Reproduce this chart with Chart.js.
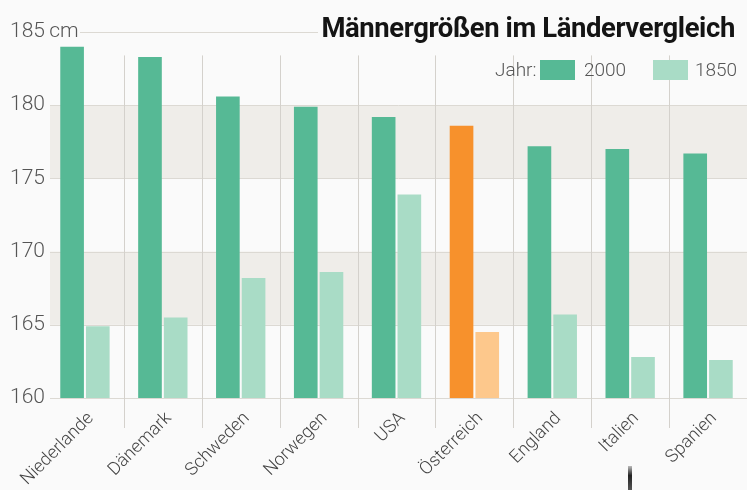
<!DOCTYPE html>
<html lang="de">
<head>
<meta charset="utf-8">
<title>Männergrößen im Ländervergleich</title>
<script src="https://cdn.jsdelivr.net/npm/chart.js@4.4.1/dist/chart.umd.min.js"></script>
<style>
  html, body { margin: 0; padding: 0; background: #fafafa; }
  #wrap { position: relative; width: 747px; height: 490px; overflow: hidden; }
  #chart { position: absolute; left: 0; top: 0; }
  .title {
    position: absolute; right: 12px; top: 11px; white-space: nowrap;
    font-family: Roboto, 'Open Sans', sans-serif;
    font-weight: bold; font-size: 28px; color: #141414; letter-spacing: -0.4px;
    transform: scaleX(0.98); transform-origin: right center;
  }
  .legend {
    position: absolute; top: 58px; font-family: Roboto, 'Open Sans', sans-serif;
    font-size: 19px; color: #555; line-height: 24px; font-weight: 300;
  }
  .swatch { position: absolute; top: 60px; width: 35px; height: 20px; }
  .mark {
    position: absolute; left: 628px; top: 466px; width: 4px; height: 24px;
    background: linear-gradient(#bbb, #222 40%, #555);
  }
</style>
</head>
<body>
<div id="wrap">
  <canvas id="chart" width="747" height="490"></canvas>
  <div class="title">Männergrößen im Ländervergleich</div>
  <div class="legend" style="left:495px">Jahr:</div>
  <div class="swatch" style="left:540px;background:#56b995"></div>
  <div class="legend" style="left:584px">2000</div>
  <div class="swatch" style="left:653px;background:#a9dcc6"></div>
  <div class="legend" style="left:695px">1850</div>
  <div class="mark"></div>
</div>
<script>
(function () {
  'use strict';

  const countries = ['Niederlande', 'Dänemark', 'Schweden', 'Norwegen', 'USA', 'Österreich', 'England', 'Italien', 'Spanien'];
  const heights2000 = [184.0, 183.3, 180.6, 179.9, 179.2, 178.6, 177.2, 177.0, 176.7];
  const heights1850 = [164.9, 165.5, 168.2, 168.6, 173.9, 164.5, 165.7, 162.8, 162.6];
  const yTicks = [160, 165, 170, 175, 180, 185];
  const shadedBands = [[165, 170], [175, 180]];
  const highlight = 'Österreich';

  const green = '#56b995';
  const greenLight = '#a9dcc6';
  const orange = '#f7912c';
  const orangeLight = '#fdc88c';
  const labelFont = "Roboto, 'Open Sans', sans-serif";

  // bands, grid lines and category separators behind the bars
  const backdrop = {
    id: 'backdrop',
    beforeDatasetsDraw(chart) {
      const { ctx, chartArea: area, scales: { x, y } } = chart;
      ctx.save();
      ctx.fillStyle = '#efede9';
      shadedBands.forEach(([lo, hi]) => {
        const top = y.getPixelForValue(hi);
        ctx.fillRect(area.left + 4, top, area.right - area.left, y.getPixelForValue(lo) - top);
      });
      ctx.strokeStyle = '#dcd9d3';
      ctx.lineWidth = 1;
      yTicks.forEach((v) => {
        const py = Math.round(y.getPixelForValue(v)) + 0.5;
        ctx.beginPath();
        if (v === 185) {
          ctx.moveTo(80, py);
          ctx.lineTo(318, py);
        } else {
          ctx.moveTo(area.left + 4, py);
          ctx.lineTo(area.right, py);
        }
        ctx.stroke();
      });
      ctx.strokeStyle = '#d4d1cc';
      const step = x.getPixelForTick(1) - x.getPixelForTick(0);
      for (let i = 0; i < countries.length - 1; i++) {
        const px = Math.round(x.getPixelForTick(i) + step / 2) + 0.5;
        ctx.beginPath();
        ctx.moveTo(px, y.getPixelForValue(183.4));
        ctx.lineTo(px, area.bottom + 30);
        ctx.stroke();
      }
      ctx.restore();
    },
  };

  new Chart(document.getElementById('chart'), {
    type: 'bar',
    data: {
      labels: countries,
      datasets: [
        {
          label: '2000',
          data: heights2000,
          backgroundColor: countries.map((c) => (c === highlight ? orange : green)),
        },
        {
          label: '1850',
          data: heights1850,
          backgroundColor: countries.map((c) => (c === highlight ? orangeLight : greenLight)),
        },
      ],
    },
    options: {
      responsive: false,
      animation: false,
      layout: { padding: { left: 10, top: 32, right: 0, bottom: 0 } },
      categoryPercentage: 0.66,
      barPercentage: 0.92,
      plugins: {
        legend: { display: false },
        tooltip: { enabled: false },
      },
      scales: {
        x: {
          grid: { display: false },
          border: { display: false },
          ticks: {
            minRotation: 45,
            maxRotation: 45,
            padding: 2,
            labelOffset: 6,
            color: '#444',
            font: { family: labelFont, size: 18, weight: 300 },
          },
          afterFit(scale) { scale.height = 92; },
        },
        y: {
          min: 160,
          max: 185,
          grid: { display: false },
          border: { display: false },
          afterBuildTicks(scale) { scale.ticks = yTicks.map((v) => ({ value: v })); },
          afterFit(scale) { scale.width = 36; },
          ticks: {
            // mirrored so the wider "185 cm" label is not clipped to the axis box
            mirror: true,
            padding: -36,
            color: '#555',
            font: { family: labelFont, size: 21, weight: 300 },
            callback: (v) => (v === 185 ? '185\u2009cm' : String(v)),
          },
        },
      },
    },
    plugins: [backdrop],
  });
})();
</script>
</body>
</html>
